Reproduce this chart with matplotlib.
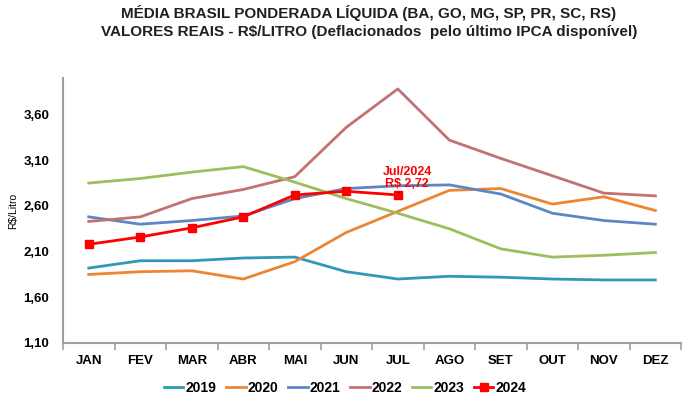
import numpy as np
import matplotlib
matplotlib.use("Agg")
import matplotlib.pyplot as plt

plt.rcParams['font.family'] = ['Liberation Sans', 'DejaVu Sans']

MONTHS = ["JAN", "FEV", "MAR", "ABR", "MAI", "JUN", "JUL", "AGO", "SET", "OUT", "NOV", "DEZ"]

v2019 = [1.92, 2.00, 2.00, 2.03, 2.04, 1.88, 1.80, 1.83, 1.82, 1.80, 1.79, 1.79]
v2020 = [1.85, 1.88, 1.89, 1.80, 1.99, 2.31, 2.54, 2.77, 2.79, 2.62, 2.70, 2.55]
v2021 = [2.48, 2.40, 2.44, 2.49, 2.68, 2.79, 2.82, 2.83, 2.73, 2.52, 2.44, 2.40]
v2022 = [2.43, 2.48, 2.68, 2.78, 2.92, 3.46, 3.88, 3.32, 3.12, 2.93, 2.74, 2.71]
v2023 = [2.85, 2.90, 2.97, 3.03, 2.86, 2.68, 2.52, 2.35, 2.13, 2.04, 2.06, 2.09]
v2024 = [2.18, 2.26, 2.36, 2.48, 2.72, 2.76, 2.72]

YTICKS = [1.10, 1.60, 2.10, 2.60, 3.10, 3.60]

series = [
    ("2019", v2019, "#2E9AB8"),
    ("2020", v2020, "#EC8633"),
    ("2021", v2021, "#5E86C4"),
    ("2022", v2022, "#C27272"),
    ("2023", v2023, "#9DBE5C"),
]

fig = plt.figure(figsize=(7.0, 4.04), dpi=100)
ax = fig.add_axes([0.09, 0.151, 0.883, 0.656])

x = np.arange(len(MONTHS))
for label, vals, color in series:
    ax.plot(x[:len(vals)], vals, color=color, lw=2, label=label)
ax.plot(x[:len(v2024)], v2024, color="#FF0000", lw=2, marker="s", ms=6, label="2024")

# annotation for the last 2024 point
last = len(v2024) - 1
ax.annotate("Jul/2024\nR$ 2,72", xy=(last, v2024[-1]), xytext=(last + 0.18, 2.91),
            ha="center", va="center", color="#FF0000", fontsize=9, fontweight="bold",
            linespacing=1.0,
            arrowprops=dict(arrowstyle="-", color="black", lw=0.8, shrinkA=0, shrinkB=2))

ax.set_xlim(-0.5, len(MONTHS) - 0.5)
ax.set_ylim(1.10, 4.00)
ax.set_yticks(YTICKS)
ax.set_yticklabels([f"{t:.2f}".replace(".", ",") for t in YTICKS],
                   fontsize=9.5, fontweight="bold")
ax.set_xticks(x)
ax.set_xticklabels(MONTHS, fontsize=9.5, fontweight="bold")
ax.set_xticks(np.arange(-0.5, len(MONTHS)), minor=True)
ax.tick_params(axis="x", which="major", length=0, pad=9)
ax.tick_params(axis="x", which="minor", length=5, color="#A0A0A0", width=1.2)
ax.tick_params(axis="y", length=0, pad=10)

for s in ["top", "right"]:
    ax.spines[s].set_visible(False)
for s in ["left", "bottom"]:
    ax.spines[s].set_color("#A0A0A0")
    ax.spines[s].set_linewidth(1.5)

ax.set_ylabel("R$/Litro", fontsize=7.5, labelpad=4)

fig.text(0.527, 0.967, "MÉDIA BRASIL PONDERADA LÍQUIDA (BA, GO, MG, SP, PR, SC, RS)",
         ha="center", va="center", fontsize=11, fontweight="bold", color="#202020")
fig.text(0.527, 0.922, "VALORES REAIS - R$/LITRO (Deflacionados  pelo último IPCA disponível)",
         ha="center", va="center", fontsize=11, fontweight="bold", color="#202020")

leg = fig.legend(loc="center", bbox_to_anchor=(0.493, 0.04), ncol=6, frameon=False,
                 prop={"size": 10, "weight": "bold"}, handlelength=1.4,
                 handletextpad=0.15, columnspacing=0.7)

fig.savefig("out.png", dpi=100)
